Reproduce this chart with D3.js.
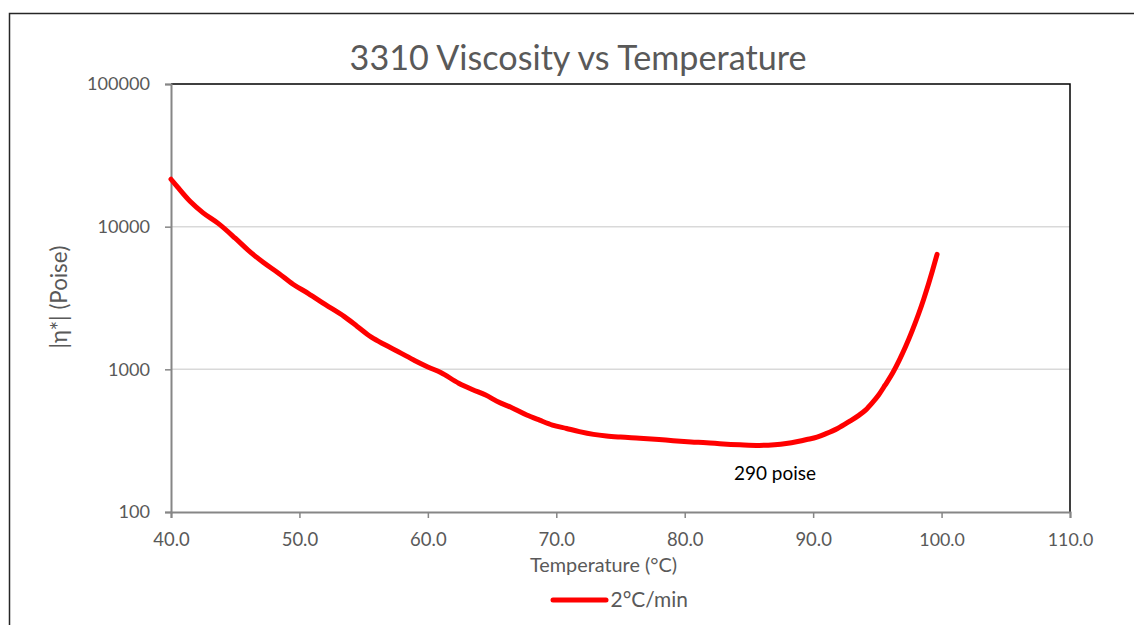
<!DOCTYPE html>
<html>
<head>
<meta charset="utf-8">
<script src="https://cdn.jsdelivr.net/npm/d3@7"></script>
<style>
  html, body { margin: 0; padding: 0; background: #fff; }
  svg { display: block; font-family: Lato, "Open Sans", sans-serif; }
</style>
</head>
<body>
<svg id="chart" width="1134" height="625"></svg>
<script>
// ---- data ----
const chartTitle = "3310 Viscosity vs Temperature";
const xAxisTitle = "Temperature (°C)";
const yAxisTitle = "|η*| (Poise)";
const seriesName = "2°C/min";
const annotationText = "290 poise";
const xTicks = [40, 50, 60, 70, 80, 90, 100, 110];
const yTicks = [100, 1000, 10000, 100000];
const temperature = [40.0, 40.5, 41.5, 42.5, 43.7, 45.0, 46.0, 47.2, 48.4, 49.5,
  50.7, 52.0, 53.5, 54.5, 55.6, 56.7, 57.7, 59.0, 60.0, 61.0,
  62.4, 63.5, 64.5, 65.5, 66.5, 67.7, 68.7, 69.7, 70.8, 71.8,
  72.9, 73.9, 75.0, 76.5, 78.0, 79.1, 80.5, 81.7, 83.0, 84.3,
  85.8, 87.0, 87.9, 88.8, 89.5, 90.3, 91.0, 91.9, 92.8, 93.5,
  94.1, 94.6, 95.1, 95.6, 96.2, 96.7, 97.2, 97.7, 98.2, 98.6,
  99.0, 99.3, 99.65];
const viscosity = [21500, 19000, 15000, 12500, 10500, 8300, 6850, 5600, 4700, 3950,
  3400, 2850, 2340, 2000, 1680, 1480, 1330, 1150, 1040, 950,
  800, 720, 660, 590, 540, 478, 440, 407, 385, 366,
  350, 341, 335, 329, 322, 316, 310, 306, 300, 296,
  293, 296, 302, 312, 322, 335, 354, 385, 430, 472,
  520, 582, 661, 774, 946, 1156, 1445, 1854, 2432, 3090,
  4009, 4943, 6400];

// ---- layout ----
const svg = d3.select("#chart");
const plot = { left: 171, top: 84, right: 1070, bottom: 512 };
const textGrey = "#595959";

const x = d3.scaleLinear().domain([40, 110]).range([plot.left, plot.right]);
const y = d3.scaleLog().domain([100, 100000]).range([plot.bottom, plot.top]);

function fitWidth(sel, target) {
  const node = sel.node();
  const fs = parseFloat(sel.attr("font-size"));
  const w = node.getComputedTextLength();
  if (w > 0) sel.attr("font-size", (fs * target / w).toFixed(2));
  return sel;
}

// outer chart border (extends beyond the window on right and bottom)
svg.append("rect")
  .attr("x", 9.5).attr("y", 13.5).attr("width", 1300).attr("height", 800)
  .attr("fill", "none").attr("stroke", "#262626").attr("stroke-width", 1.5);

// gridlines
svg.append("g").selectAll("line")
  .data(yTicks.filter(d => d > 100 && d < 100000))
  .join("line")
  .attr("x1", plot.left).attr("x2", plot.right)
  .attr("y1", d => y(d)).attr("y2", d => y(d))
  .attr("stroke", "#d9d9d9").attr("stroke-width", 1.5);

// plot border top and right (black)
svg.append("path")
  .attr("d", `M${plot.left},${plot.top}H${plot.right}V${plot.bottom}`)
  .attr("fill", "none").attr("stroke", "#000").attr("stroke-width", 1.5);

// axes
const xAxis = d3.axisBottom(x).tickValues(xTicks).tickSize(6).tickFormat(d => d.toFixed(1));
const gx = svg.append("g").attr("transform", `translate(0,${plot.bottom})`).call(xAxis);
gx.select(".domain").attr("stroke", "#868686").attr("stroke-width", 2);
gx.selectAll(".tick line").attr("stroke", "#868686").attr("stroke-width", 1.5);
gx.selectAll(".tick text")
  .attr("fill", textGrey).attr("font-size", 18).attr("font-family", "Lato")
  .attr("y", 0).attr("dy", null)
  .attr("transform", "translate(0,34)");
gx.selectAll(".tick text").each(function() {
  const s = d3.select(this);
  const len = s.text().length;
  fitWidth(s, len === 4 ? 36.5 : 45.5);
});

const yAxis = d3.axisLeft(y).tickValues(yTicks).tickSize(6).tickFormat(d => String(d));
const gy = svg.append("g").attr("transform", `translate(${plot.left},0)`).call(yAxis);
gy.select(".domain").attr("stroke", "#868686").attr("stroke-width", 2);
gy.selectAll(".tick line").attr("stroke", "#868686").attr("stroke-width", 1.5);
gy.selectAll(".tick text")
  .attr("fill", textGrey).attr("font-size", 18).attr("font-family", "Lato")
  .attr("x", -21);
gy.selectAll(".tick text").each(function() {
  const s = d3.select(this);
  fitWidth(s, s.text().length * 10.5);
});

// title
const title = svg.append("text")
  .attr("x", 578).attr("y", 69.5).attr("text-anchor", "middle")
  .attr("fill", textGrey).attr("font-size", 32).text(chartTitle);
fitWidth(title, 457);

// axis titles
const xt = svg.append("text")
  .attr("x", 603.5).attr("y", 571.5).attr("text-anchor", "middle")
  .attr("fill", textGrey).attr("font-size", 18).text(xAxisTitle);
fitWidth(xt, 147);

const yt = svg.append("text")
  .attr("transform", "translate(67,297) rotate(-90)")
  .attr("text-anchor", "middle")
  .attr("fill", textGrey).attr("font-size", 18).text(yAxisTitle);
fitWidth(yt, 103);

// series line
const data = temperature.map((t, i) => ({ t, v: viscosity[i] }));
const line = d3.line().x(d => x(d.t)).y(d => y(d.v)).curve(d3.curveMonotoneX);
svg.append("path")
  .datum(data)
  .attr("d", line)
  .attr("fill", "none").attr("stroke", "#ff0000")
  .attr("stroke-width", 5).attr("stroke-linejoin", "round").attr("stroke-linecap", "round");

// annotation
const ann = svg.append("text")
  .attr("x", 734).attr("y", 480)
  .attr("fill", "#000").attr("font-size", 17).text(annotationText);
fitWidth(ann, 82);

// legend
svg.append("line")
  .attr("x1", 553).attr("x2", 606).attr("y1", 600).attr("y2", 600)
  .attr("stroke", "#ff0000").attr("stroke-width", 5).attr("stroke-linecap", "round");
const lt = svg.append("text")
  .attr("x", 610.5).attr("y", 607)
  .attr("fill", textGrey).attr("font-size", 20).text(seriesName);
fitWidth(lt, 77.5);
</script>
</body>
</html>
